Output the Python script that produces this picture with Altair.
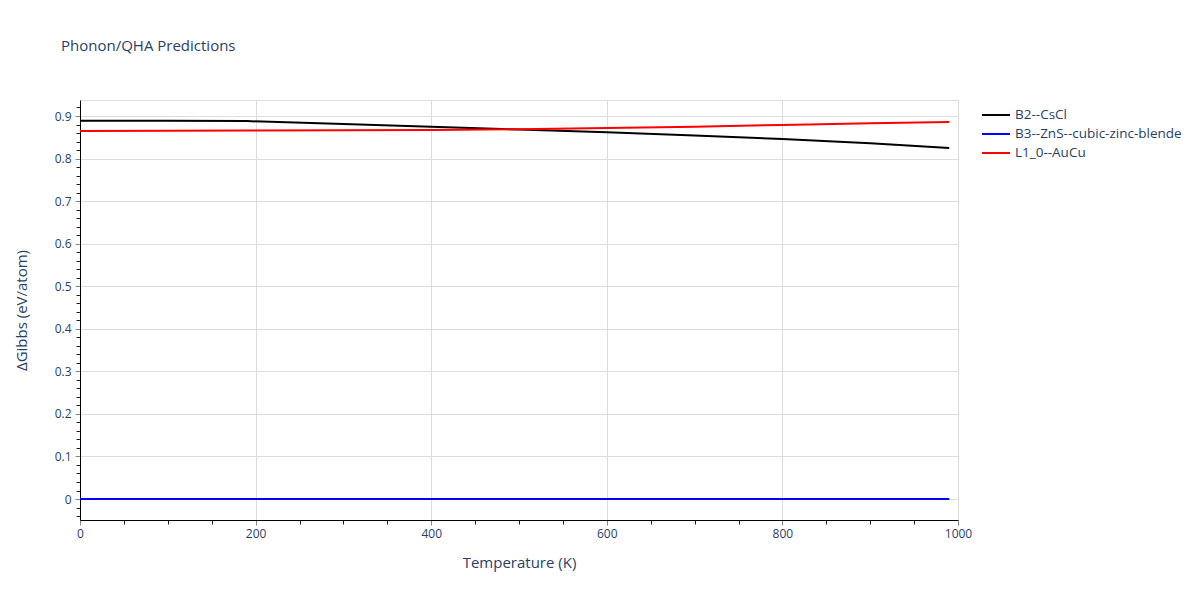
import altair as alt
import pandas as pd

# ---- data ----
temps = [0, 100, 190, 300, 400, 500, 600, 700, 800, 900, 990]
b2_cscl = [0.889, 0.8887, 0.888, 0.881, 0.875, 0.868, 0.862, 0.854, 0.846, 0.836, 0.825]
b3_zns = [0.0, 0.0, 0.0, 0.0, 0.0, 0.0, 0.0, 0.0, 0.0, 0.0, 0.0]
l10_aucu = [0.865, 0.8655, 0.866, 0.8665, 0.867, 0.869, 0.872, 0.875, 0.879, 0.883, 0.886]
names = ["B2--CsCl", "B3--ZnS--cubic-zinc-blende", "L1_0--AuCu"]
colors = ["#000000", "#0000ff", "#ff0000"]

x_ticks = list(range(0, 1001, 50))
y_ticks = [round(-0.04 + 0.02 * i, 2) for i in range(49)]

rows = []
for n, vals in zip(names, [b2_cscl, b3_zns, l10_aucu]):
    for t, v in zip(temps, vals):
        rows.append({"T": t, "G": v, "phase": n})
df = pd.DataFrame(rows)

FONT = "Open Sans"
FC = "#2a3f5f"

y_major = "abs(datum.value*10 - round(datum.value*10)) < 0.001"
x_major = "datum.value % 200 == 0"

x_axis = alt.Axis(
    values=x_ticks,
    title="Temperature (K)",
    labelExpr=f"{x_major} ? format(datum.value, 'd') : ''",
    labelOverlap=False, labelFlush=False,
    labelFont=FONT, labelFontSize=12, labelColor=FC, labelPadding=3,
    titleFont=FONT, titleFontSize=15, titleColor=FC, titleFontWeight="normal",
    titlePadding=16,
    domainColor="#000000", domainWidth=1,
    tickColor={"condition": {"test": x_major, "value": "#888888"}, "value": "#222222"},
    tickSize={"condition": {"test": x_major, "value": 5}, "value": 4},
    grid=True, gridColor="#dddddd",
    gridOpacity={"condition": {"test": f"{x_major} && datum.value > 0 && datum.value < 1000", "value": 1}, "value": 0},
)
y_axis = alt.Axis(
    values=y_ticks,
    title="ΔGibbs (eV/atom)",
    labelExpr=f"{y_major} ? format(datum.value, '.1~f') : ''",
    labelOverlap=False, labelFlush=False,
    labelFont=FONT, labelFontSize=12, labelColor=FC, labelPadding=4,
    titleFont=FONT, titleFontSize=15, titleColor=FC, titleFontWeight="normal",
    titlePadding=25,
    domainColor="#000000", domainWidth=1,
    tickColor={"condition": {"test": y_major, "value": "#888888"}, "value": "#222222"},
    tickSize={"condition": {"test": y_major, "value": 5}, "value": 4},
    grid=True, gridColor="#dddddd",
    gridOpacity={"condition": {"test": y_major, "value": 1}, "value": 0},
)

chart = (
    alt.Chart(df)
    .mark_line(strokeWidth=2, clip=True)
    .encode(
        x=alt.X("T:Q", scale=alt.Scale(domain=[0, 1000], nice=False, zero=False), axis=x_axis),
        y=alt.Y("G:Q", scale=alt.Scale(domain=[-0.0493, 0.9376], nice=False, zero=False), axis=y_axis),
        color=alt.Color(
            "phase:N",
            scale=alt.Scale(domain=names, range=colors),
            legend=alt.Legend(
                orient="none", legendX=901, legendY=5.5, title=None,
                symbolType="stroke", symbolSize=784, symbolStrokeWidth=2,
                labelFont=FONT, labelFontSize=13.5, labelColor=FC,
                labelOffset=4, labelLimit=400, clipHeight=19, rowPadding=0,
            ),
        ),
    )
    .properties(
        width=878,
        height=420,
        autosize=alt.AutoSizeParams(type="none"),
        padding={"left": 72, "top": 92, "right": 234, "bottom": 72},
        title=alt.TitleParams(
            "Phonon/QHA Predictions", anchor="start", frame="group", dx=-19,
            offset=34, baseline="alphabetic",
            font=FONT, fontSize=15, fontWeight="normal", color=FC,
        ),
    )
    .configure_view(stroke=None)
    .configure(background="white")
)

chart.save("out.html", embed_options={"renderer": "svg", "actions": False})
